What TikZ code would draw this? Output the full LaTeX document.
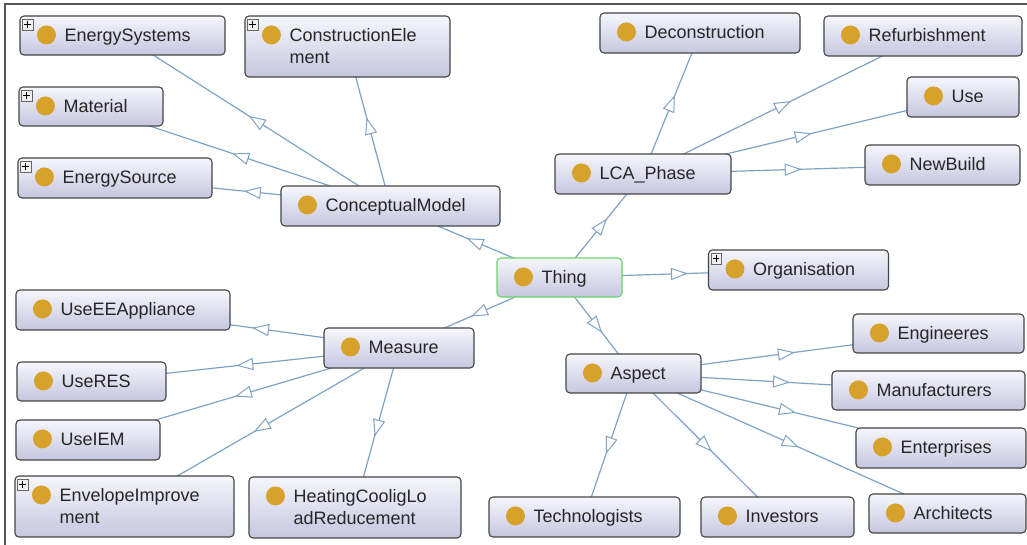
\documentclass[tikz,border=0pt]{standalone}
\usepackage{fontspec}
\setmainfont{Liberation Sans}
\usetikzlibrary{decorations.markings,backgrounds}
\definecolor{boxtop}{HTML}{F6F6FC}
\definecolor{boxbot}{HTML}{C6C6E0}
\definecolor{boxborder}{HTML}{454545}
\definecolor{dotc}{HTML}{D6A22C}
\definecolor{edgec}{HTML}{7FA3C6}
\definecolor{thinggreen}{HTML}{6CD36C}
\definecolor{txt}{HTML}{262626}
\definecolor{framec}{HTML}{555555}
\newcommand\clsnode[6][boxborder]{\node[clsbox, draw=#1, minimum width=#5pt, minimum height=#6pt] (#2) at (#3,#4) {};}
\newcommand\clslabel[2]{%
  \fill[dotc] ([xshift=27pt,yshift=-19.5pt]#1.north west) circle (9.5pt);
  \node[lbl, anchor=base west] (#1-t) at ([xshift=45pt,yshift=-26pt]#1.north west) {#2};}
\newcommand\clslabelb[2]{%
  \node[lbl, anchor=base west] (#1-t2) at ([xshift=45pt,yshift=-48.5pt]#1.north west) {#2};}
\newcommand\plusicon[1]{%
  \draw[draw=gray!80!black, fill=gray!12, line width=0.6pt] ([xshift=3pt,yshift=-4pt]#1.north west) rectangle ++(10.5pt,-10.5pt);
  \draw[black, line width=1pt] ([xshift=5pt,yshift=-9.25pt]#1.north west) -- ++(6.5pt,0pt);
  \draw[black, line width=1pt] ([xshift=8.25pt,yshift=-6pt]#1.north west) -- ++(0pt,-6.5pt);}
\begin{document}
\begin{tikzpicture}[x=1pt,y=-1pt,
  clsbox/.style={rectangle, rounded corners=4pt, line width=1.1pt, top color=boxtop, bottom color=boxbot, inner sep=0pt},
  lbl/.style={font=\fontsize{18}{22}\selectfont, text=txt, inner sep=0pt},
  isa/.style={draw=edgec, line width=1.2pt, postaction={decorate},
    decoration={markings, mark=at position 0.5 with {\draw[edgec, fill=white, line width=1pt] (7.5pt,0pt) -- (-7.5pt,5.5pt) -- (-7.5pt,-5.5pt) -- cycle;}}}
]
\useasboundingbox (0,0) rectangle (1027,545);
% nodes
\clsnode{es}{122.5}{35.5}{205}{39}
\clsnode{ce}{347.5}{46.5}{205}{61}
\clsnode{mat}{91}{106.5}{144}{39}
\clsnode{esrc}{115}{178}{194}{40}
\clsnode{cm}{390.5}{206}{219}{40}
\clsnode{dec}{700}{33}{200}{40}
\clsnode{ref}{923}{36}{198}{40}
\clsnode{use}{963}{97}{112}{40}
\clsnode{nb}{942.5}{165}{155}{40}
\clsnode{lca}{643}{174}{176}{40}
\clsnode[thinggreen]{thing}{559.5}{277.5}{125}{39}
\clsnode{org}{798.5}{270}{180}{40}
\clsnode{eea}{123}{310}{214}{40}
\clsnode{res}{91.5}{381.5}{149}{39}
\clsnode{iem}{88}{440}{144}{40}
\clsnode{env}{124.5}{506.5}{219}{61}
\clsnode{hcl}{355}{507.5}{212}{61}
\clsnode{meas}{399}{348}{150}{40}
\clsnode{asp}{633.5}{373.5}{135}{39}
\clsnode{eng}{938.5}{333.5}{171}{39}
\clsnode{man}{928.5}{390.5}{193}{39}
\clsnode{ent}{941}{448}{170}{40}
\clsnode{arch}{947.5}{513.5}{157}{39}
\clsnode{tech}{584.5}{517}{191}{40}
\clsnode{inv}{777.5}{517}{153}{40}
% labels
\clslabel{es}{EnergySystems}\plusicon{es}
\clslabel{ce}{ConstructionEle}\clslabelb{ce}{ment}\plusicon{ce}
\clslabel{mat}{Material}\plusicon{mat}
\clslabel{esrc}{EnergySource}\plusicon{esrc}
\clslabel{cm}{ConceptualModel}
\clslabel{dec}{Deconstruction}
\clslabel{ref}{Refurbishment}
\clslabel{use}{Use}
\clslabel{nb}{NewBuild}
\clslabel{lca}{LCA\_Phase}
\clslabel{thing}{Thing}
\clslabel{org}{Organisation}\plusicon{org}
\clslabel{eea}{UseEEAppliance}
\clslabel{res}{UseRES}
\clslabel{iem}{UseIEM}
\clslabel{env}{EnvelopeImprove}\clslabelb{env}{ment}\plusicon{env}
\clslabel{hcl}{HeatingCooligLo}\clslabelb{hcl}{adReducement}
\clslabel{meas}{Measure}
\clslabel{asp}{Aspect}
\clslabel{eng}{Engineeres}
\clslabel{man}{Manufacturers}
\clslabel{ent}{Enterprises}
\clslabel{arch}{Architects}
\clslabel{tech}{Technologists}
\clslabel{inv}{Investors}
% background, frame and connectors
\begin{pgfonlayer}{background}
\fill[white] (0,0) rectangle (1027,545);
\draw[framec, line width=1.3pt] (1027,4) -- (5,4) -- (5,545);
\draw[isa] (thing.center) -- (cm.center);
\draw[isa] (thing.center) -- (lca.center);
\draw[isa] (thing.center) -- (org.center);
\draw[isa] (thing.center) -- (meas.center);
\draw[isa] (thing.center) -- (asp.center);
\draw[isa] (cm.center) -- (es.center);
\draw[isa] (cm.center) -- (ce.center);
\draw[isa] (cm.center) -- (mat.center);
\draw[isa] (cm.center) -- (esrc.center);
\draw[isa] (lca.center) -- (dec.center);
\draw[isa] (lca.center) -- (ref.center);
\draw[isa] (lca.center) -- (use.center);
\draw[isa] (lca.center) -- (nb.center);
\draw[isa] (meas.center) -- (eea.center);
\draw[isa] (meas.center) -- (res.center);
\draw[isa] (meas.center) -- (iem.center);
\draw[isa] (meas.center) -- (env.center);
\draw[isa] (meas.center) -- (hcl.center);
\draw[isa] (asp.center) -- (eng.center);
\draw[isa] (asp.center) -- (man.center);
\draw[isa] (asp.center) -- (ent.center);
\draw[isa] (asp.center) -- (arch.center);
\draw[isa] (asp.center) -- (inv.center);
\draw[isa] (asp.center) -- (tech.center);
\end{pgfonlayer}
\end{tikzpicture}
\end{document}
